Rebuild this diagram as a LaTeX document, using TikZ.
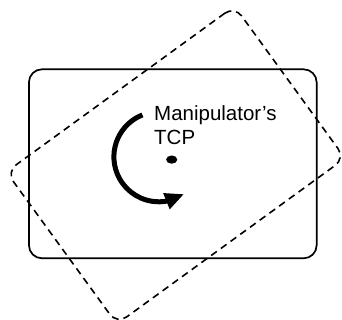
\documentclass[tikz,border=0pt]{standalone}
\usepackage{fontspec}
\setmainfont{Liberation Sans}
\usetikzlibrary{arrows.meta,bending}
\begin{document}
\begin{tikzpicture}[x=1pt,y=1pt,
  solidbox/.style={draw, line width=1.7pt, rounded corners=13pt, inner sep=0pt, outer sep=0pt},
  dashbox/.style={draw, line width=1.6pt, dash pattern=on 7pt off 5pt, rounded corners=12pt, inner sep=0pt, outer sep=0pt},
  turn/.style={line width=5pt, -{Triangle[length=19pt,width=16pt,flex]}},
  label/.style={font=\fontsize{20.5}{24}\selectfont, align=left, inner sep=0pt, anchor=base west}]
\useasboundingbox (0,0) rectangle (342,-320);
\node[solidbox, minimum width=287.7pt, minimum height=189pt] (frame) at (172.8,-163.8) {};
\node[dashbox, minimum width=282pt, minimum height=188pt, rotate=36] (tilted) at (175.7,-165.1) {};
\coordinate (c) at (158.9,-156.8);
\coordinate (arcstart) at ([shift={(111.5:45pt)}]c);
\draw[turn] (arcstart) arc[start angle=111.5, end angle=304, radius=45pt];
\fill (171.7,-159.6) ellipse[x radius=5.6pt, y radius=4.1pt];
\node[label] (tcp) at (154,-144.7) {Manipulator’s\\TCP};
\end{tikzpicture}
\end{document}
